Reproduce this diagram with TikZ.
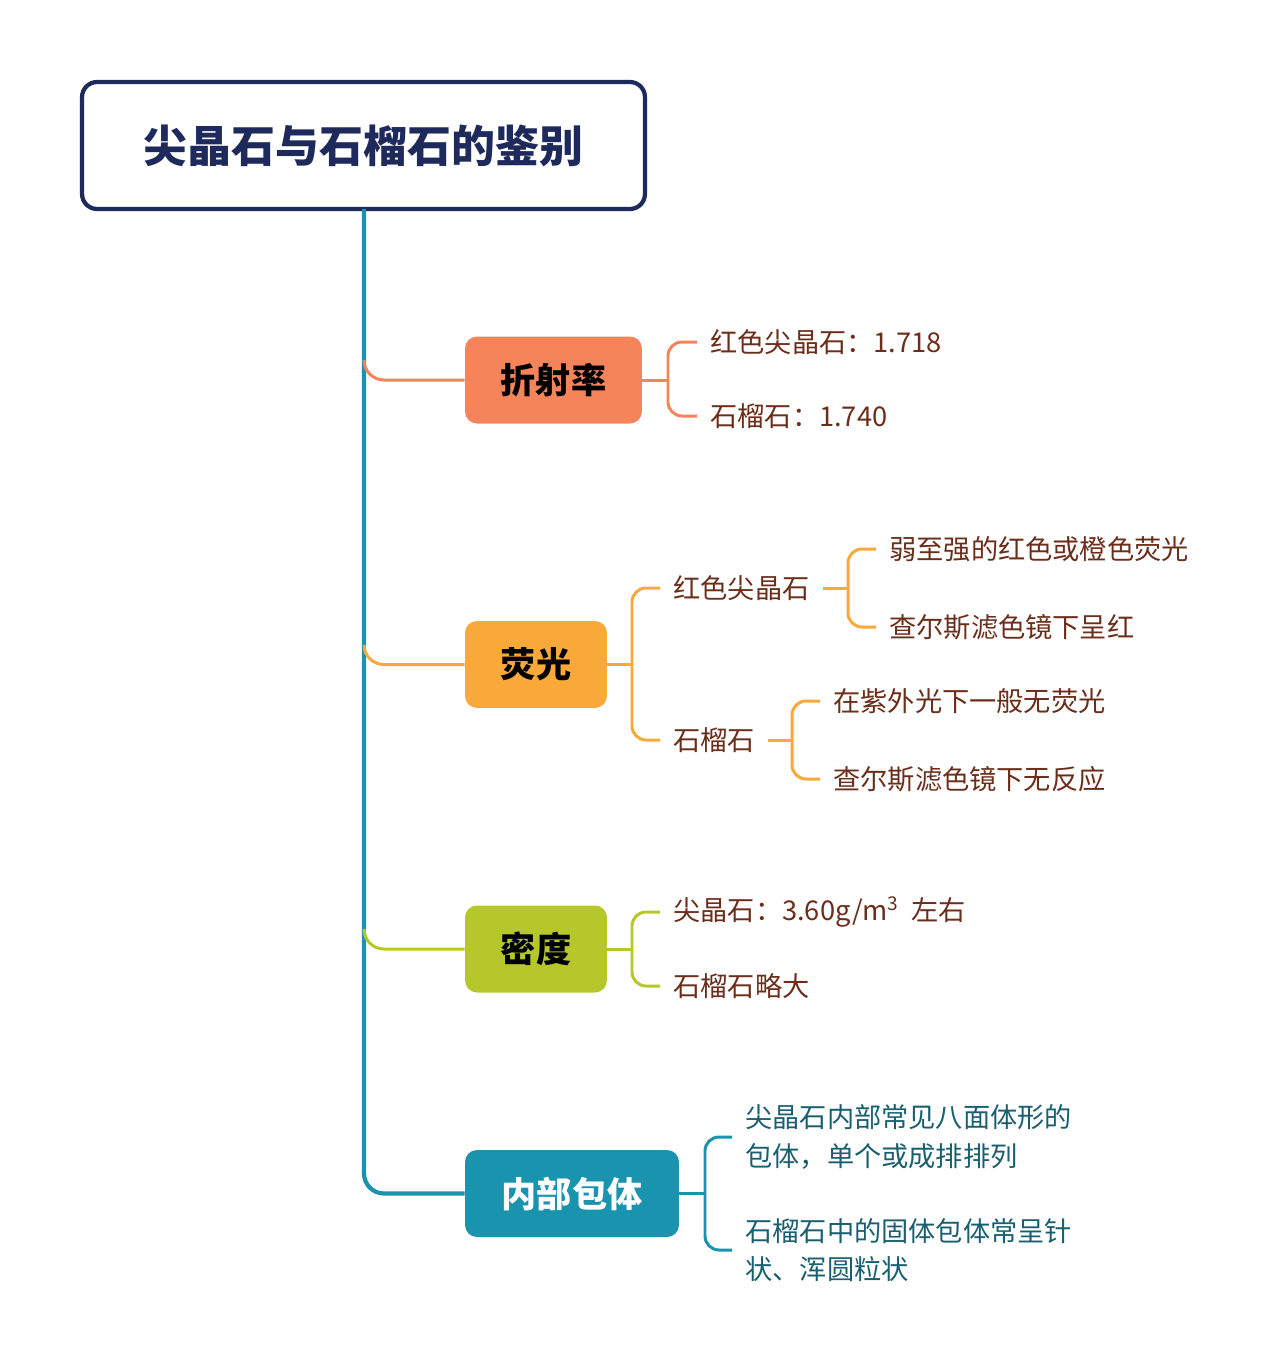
\documentclass[tikz,border=0pt]{standalone}
\usepackage{fontspec}
\setmainfont{Noto Sans CJK SC}
\definecolor{navy}{HTML}{1F2A5C}
\definecolor{teal}{HTML}{1A93AE}
\definecolor{orgA}{HTML}{F5845A}
\definecolor{orgB}{HTML}{F9A93A}
\definecolor{grn}{HTML}{B5C72A}
\definecolor{brown}{HTML}{6B2E1A}
\definecolor{tealtx}{HTML}{1A5F70}
\begin{document}
\begin{tikzpicture}[x=0.02cm,y=-0.02cm,
 cat/.style={rounded corners=0.24cm,minimum height=1.74cm,font=\fontsize{20}{24}\selectfont\bfseries,text=black},
 leaf/.style={anchor=west,inner sep=0pt,font=\fontsize{15.5}{22}\selectfont,text=brown},
 br/.style={line width=1.7pt,rounded corners=0.28cm},
 lk/.style={line width=1.7pt}]
\useasboundingbox (0,0) rectangle (1288,1360);
\node[draw=navy,line width=2.4pt,rounded corners=0.3cm,minimum width=11.26cm,minimum height=2.54cm,font=\fontsize{25}{30}\selectfont\bfseries,text=navy] (title) at (363.5,145.5) {尖晶石与石榴石的鉴别};
% categories
\node[cat,fill=orgA,minimum width=3.54cm] (c1) at (553.5,380) {折射率};
\node[cat,fill=orgB,minimum width=2.84cm] (c2) at (536,664.5) {荧光};
\node[cat,fill=grn,minimum width=2.84cm] (c3) at (536,949) {密度};
\node[cat,fill=teal,minimum width=4.28cm,text=white] (c4) at (572,1193.5) {内部包体};
% trunk
\coordinate (t0) at (364,209);
\draw[teal,line width=2.4pt,rounded corners=0.4cm] (t0) -- (364,1193.5) -- (c4.west);
\draw[orgA,lk] (364,360) to[out=-90,in=180] (384,380) -- (c1.west);
\draw[orgB,lk] (364,645) to[out=-90,in=180] (384,664.5) -- (c2.west);
\draw[grn,lk] (364,929) to[out=-90,in=180] (384,949) -- (c3.west);
% branch 1
\node[leaf] (a1) at (710,342) {红色尖晶石：1.718};
\node[leaf] (a2) at (710,416) {石榴石：1.740};
\draw[orgA,lk] (c1.east) -- (668,380);
\draw[orgA,br] ([xshift=-0.26cm]a1.west) -- (668,342) -- (668,416) -- ([xshift=-0.26cm]a2.west);
% branch 2
\node[leaf] (b1) at (673,588) {红色尖晶石};
\node[leaf] (b2) at (673,740) {石榴石};
\draw[orgB,lk] (c2.east) -- (632,664.5);
\draw[orgB,br] ([xshift=-0.26cm]b1.west) -- (632,588) -- (632,740) -- ([xshift=-0.26cm]b2.west);
\node[leaf] (b11) at (889,549) {弱至强的红色或橙色荧光};
\node[leaf] (b12) at (889,627) {查尔斯滤色镜下呈红};
\draw[orgB,lk] ([xshift=0.26cm]b1.east) -- (848,588);
\draw[orgB,br] ([xshift=-0.26cm]b11.west) -- (848,549) -- (848,627) -- ([xshift=-0.26cm]b12.west);
\node[leaf] (b21) at (833,701) {在紫外光下一般无荧光};
\node[leaf] (b22) at (833,779) {查尔斯滤色镜下无反应};
\draw[orgB,lk] ([xshift=0.26cm]b2.east) -- (792,740);
\draw[orgB,br] ([xshift=-0.26cm]b21.west) -- (792,701) -- (792,779) -- ([xshift=-0.26cm]b22.west);
% branch 3
\node[leaf] (d1) at (673,912) {尖晶石：3.60g/m\textsuperscript{3}\ \ 左右};
\node[leaf] (d2) at (673,986) {石榴石略大};
\draw[grn,lk] (c3.east) -- (632,949);
\draw[grn,br] ([xshift=-0.26cm]d1.west) -- (632,912) -- (632,986) -- ([xshift=-0.26cm]d2.west);
% branch 4
\node[leaf,text=tealtx,align=left] (e1) at (745,1137) {尖晶石内部常见八面体形的\\包体，单个或成排排列};
\node[leaf,text=tealtx,align=left] (e2) at (745,1250) {石榴石中的固体包体常呈针\\状、浑圆粒状};
\draw[teal,lk] (c4.east) -- (705,1193.5);
\draw[teal,br] ([xshift=-0.26cm]e1.west) -- (705,1137) -- (705,1250) -- ([xshift=-0.26cm]e2.west);
\end{tikzpicture}
\end{document}
